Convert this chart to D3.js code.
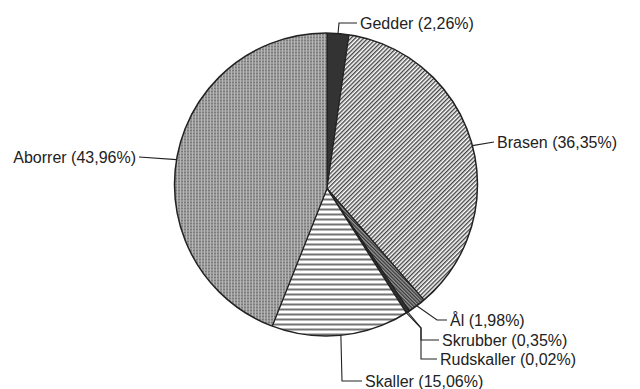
<!DOCTYPE html>
<html>
<head>
<meta charset="utf-8">
<script src="https://cdn.jsdelivr.net/npm/d3@7"></script>
<style>
  html, body { margin: 0; padding: 0; background: #fff; }
  svg { display: block; }
  text { font-family: "Liberation Sans", Arial, sans-serif; font-size: 16px; fill: #222; }
</style>
</head>
<body>
<svg id="chart" width="640" height="389"></svg>
<script>
// Catch composition, share of total (%), clockwise from 12 o'clock
const categories = ["Gedder", "Brasen", "Ål", "Skrubber", "Rudskaller", "Skaller", "Aborrer"];
const shares = [2.26, 36.35, 1.98, 0.35, 0.02, 15.06, 43.96];
const fills = ["url(#p-solid)", "url(#p-diag)", "url(#p-dense)", "url(#p-solid)", "url(#p-solid)", "url(#p-horiz)", "url(#p-grid)"];

// Leader elbows and label anchors for each slice
const labelLayout = [
  { pts: [[339, 23], [357, 23]], x: 360, y: 23, anchor: "start" },
  { pts: [[494, 142]], x: 497, y: 142, anchor: "start" },
  { pts: [[437, 320], [447, 320]], x: 450, y: 320, anchor: "start" },
  { pts: [[421, 328], [421, 340], [439, 340]], x: 442, y: 340, anchor: "start" },
  { pts: [[421, 328], [421, 359], [437, 359]], x: 440, y: 359, anchor: "start" },
  { pts: [[342, 381], [362, 381]], x: 365, y: 381, anchor: "start" },
  { pts: [[139, 157]], x: 136, y: 157, anchor: "end" }
];

// Disc outline and the point where the slices meet (slightly below the disc centre)
const disc = { cx: 326, cy: 184.5, r: 151.5 };
const apex = { x: 327, y: 188.5 };

const svg = d3.select("#chart");
const defs = svg.append("defs");

// Fill patterns
const solid = defs.append("pattern").attr("id", "p-solid").attr("patternUnits", "userSpaceOnUse")
  .attr("width", 4).attr("height", 4);
solid.append("rect").attr("width", 4).attr("height", 4).attr("fill", "#333");

const diag = defs.append("pattern").attr("id", "p-diag").attr("patternUnits", "userSpaceOnUse")
  .attr("width", 3).attr("height", 3).attr("patternTransform", "rotate(45)");
diag.append("rect").attr("width", 3).attr("height", 3).attr("fill", "#fff");
diag.append("line").attr("x1", 0.7).attr("y1", 0).attr("x2", 0.7).attr("y2", 3)
  .attr("stroke", "#444").attr("stroke-width", 1.4);

const dense = defs.append("pattern").attr("id", "p-dense").attr("patternUnits", "userSpaceOnUse")
  .attr("width", 2.5).attr("height", 2.5).attr("patternTransform", "rotate(-45)");
dense.append("rect").attr("width", 2.5).attr("height", 2.5).attr("fill", "#999");
dense.append("line").attr("x1", 0.6).attr("y1", 0).attr("x2", 0.6).attr("y2", 2.5)
  .attr("stroke", "#333").attr("stroke-width", 1.2);

const horiz = defs.append("pattern").attr("id", "p-horiz").attr("patternUnits", "userSpaceOnUse")
  .attr("width", 5).attr("height", 5);
horiz.append("rect").attr("width", 5).attr("height", 5).attr("fill", "#fff");
horiz.append("line").attr("x1", 0).attr("y1", 1).attr("x2", 5).attr("y2", 1)
  .attr("stroke", "#444").attr("stroke-width", 1.5);

const grid = defs.append("pattern").attr("id", "p-grid").attr("patternUnits", "userSpaceOnUse")
  .attr("width", 3).attr("height", 3);
grid.append("rect").attr("width", 3).attr("height", 3).attr("fill", "#7a7a7a");
grid.append("line").attr("x1", 0).attr("y1", 0.5).attr("x2", 3).attr("y2", 0.5)
  .attr("stroke", "#b5b5b5").attr("stroke-width", 1);
grid.append("line").attr("x1", 0.5).attr("y1", 0).attr("x2", 0.5).attr("y2", 3)
  .attr("stroke", "#b5b5b5").attr("stroke-width", 1);

defs.append("clipPath").attr("id", "disc-clip")
  .append("circle").attr("cx", disc.cx).attr("cy", disc.cy).attr("r", disc.r);

const data = categories.map((name, i) => ({ name, value: shares[i], fill: fills[i], layout: labelLayout[i] }));

const pie = d3.pie().value(d => d.value).sort(null);
// Wedges reach past the disc and are trimmed by the clip
const arc = d3.arc().innerRadius(0).outerRadius(disc.r + 20);
const arcs = pie(data);

const g = svg.append("g").attr("clip-path", "url(#disc-clip)")
  .append("g").attr("transform", `translate(${apex.x},${apex.y})`);

g.selectAll("path.slice")
  .data(arcs)
  .join("path")
  .attr("class", "slice")
  .attr("d", arc)
  .attr("fill", d => d.data.fill)
  .attr("stroke", "#222")
  .attr("stroke-width", 1.2)
  .attr("stroke-linejoin", "round");

svg.append("circle").attr("cx", disc.cx).attr("cy", disc.cy).attr("r", disc.r)
  .attr("fill", "none").attr("stroke", "#222").attr("stroke-width", 1.5);

// Point where a slice's mid-angle ray leaves the disc
function rimPoint(d) {
  const a = (d.startAngle + d.endAngle) / 2;
  const ux = Math.sin(a), uy = -Math.cos(a);
  const wx = apex.x - disc.cx, wy = apex.y - disc.cy;
  const b = wx * ux + wy * uy;
  const c = wx * wx + wy * wy - disc.r * disc.r;
  const t = -b + Math.sqrt(b * b - c);
  return [apex.x + t * ux, apex.y + t * uy];
}

const fmt = v => d3.format(".2f")(v).replace(".", ",");
const line = d3.line();

svg.selectAll("path.leader")
  .data(arcs)
  .join("path")
  .attr("class", "leader")
  .attr("d", d => line([rimPoint(d), ...d.data.layout.pts]))
  .attr("fill", "none")
  .attr("stroke", "#222")
  .attr("stroke-width", 1.1);

svg.selectAll("text.label")
  .data(arcs)
  .join("text")
  .attr("class", "label")
  .attr("x", d => d.data.layout.x)
  .attr("y", d => d.data.layout.y)
  .attr("dy", "0.35em")
  .attr("text-anchor", d => d.data.layout.anchor)
  .text(d => `${d.data.name} (${fmt(d.data.value)}%)`);
</script>
</body>
</html>
